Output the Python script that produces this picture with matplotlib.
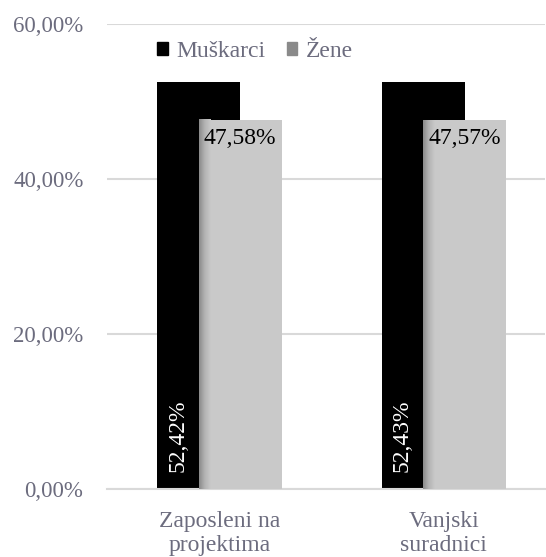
import numpy as np
import matplotlib.pyplot as plt
from matplotlib.patches import Patch
from matplotlib.colors import LinearSegmentedColormap

# podaci
kategorije = ['Zaposleni na\nprojektima', 'Vanjski\nsuradnici']
muskarci = [52.42, 52.43]
zene = [47.58, 47.57]
serije = ['Muškarci', 'Žene']

plt.rcParams['font.family'] = ['Liberation Serif', 'DejaVu Serif']
siva_tekst = '#6c6c7e'

fig = plt.figure(figsize=(5.46, 5.57), dpi=100)
ax = fig.add_axes([0.196, 0.122, 0.802, 0.8355])

x = np.arange(len(kategorije))
w = 0.37
pomak = 0.0925

# stupci - zene preklapaju muskarce
b_m = ax.bar(x - pomak, muskarci, w, color='#000000', zorder=2)
b_z = ax.bar(x + pomak, zene, w, color='#c9c9c9', zorder=3)

# sjena na lijevom rubu sivih stupaca
sjena = LinearSegmentedColormap.from_list('sjena', ['#8a8a8a', '#b4b4b4', '#c9c9c9'])
grad = np.linspace(0, 1, 64).reshape(1, -1)
for xi, v in zip(x, zene):
    lijevo = xi + pomak - w / 2
    ax.imshow(grad, cmap=sjena, extent=[lijevo, lijevo + 0.05, 0, v],
              aspect='auto', zorder=3.5, interpolation='bilinear')

# oznake vrijednosti
for xi, v in zip(x, muskarci):
    ax.annotate(f'{v:.2f}%'.replace('.', ','), (xi - pomak - w / 4, 0),
                xytext=(0, 12), textcoords='offset points', rotation=90,
                ha='center', va='bottom', color='white', fontsize=17, zorder=5)
for xi, v in zip(x, zene):
    ax.annotate(f'{v:.2f}%'.replace('.', ','), (xi + pomak, v),
                xytext=(0, -6), textcoords='offset points',
                ha='center', va='top', color='black', fontsize=17, zorder=5)

ax.set_ylim(0, 60)
ax.set_xlim(-0.5, 1.45)
ax.set_yticks([0, 20, 40, 60])
ax.set_yticklabels(['0,00%', '20,00%', '40,00%', '60,00%'])
ax.set_xticks(x)
ax.set_xticklabels(kategorije)
ax.tick_params(length=0, labelsize=16.5, colors=siva_tekst)
ax.tick_params(axis='y', pad=17)
ax.tick_params(axis='x', pad=16, labelsize=17)

ax.grid(axis='y', color='#d9d9d9', linewidth=1.5, zorder=0)
ax.set_axisbelow(True)
for s in ['top', 'right', 'left']:
    ax.spines[s].set_visible(False)
ax.spines['bottom'].set_color('#d9d9d9')
ax.spines['bottom'].set_linewidth(1.5)

ruke = [Patch(color='#000000'), Patch(color='#8a8a8a')]
leg = ax.legend(ruke, serije, loc='upper left', bbox_to_anchor=(0.077, 0.998),
                ncol=2, frameon=False, fontsize=17, handlelength=0.45,
                handleheight=0.45, handletextpad=0.35, columnspacing=0.9,
                labelcolor=siva_tekst, borderpad=0.2)

fig.savefig('out.png', dpi=100)
